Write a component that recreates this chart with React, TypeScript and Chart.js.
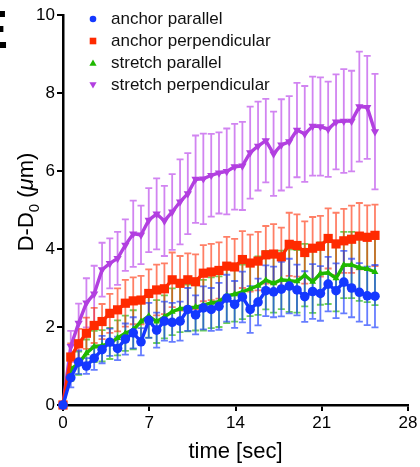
import React, { useEffect, useRef } from "react";
import { Chart, registerables } from "chart.js";

Chart.register(...registerables);

// time points (sec)
const times = [0, 0.63, 1.27, 1.9, 2.53, 3.17, 3.8, 4.43, 5.06, 5.7, 6.33, 6.96, 7.6, 8.23, 8.86, 9.5, 10.13, 10.76, 11.39, 12.03, 12.66, 13.29, 13.93, 14.56, 15.19, 15.83, 16.46, 17.09, 17.72, 18.36, 18.99, 19.62, 20.26, 20.89, 21.52, 22.16, 22.79, 23.42, 24.05, 24.69, 25.32];

const anchorParallel = [0, 0.7, 1.1, 1.0, 1.2, 1.42, 1.61, 1.45, 1.69, 1.85, 1.62, 2.17, 1.92, 2.15, 2.12, 2.15, 2.45, 2.31, 2.49, 2.45, 2.53, 2.74, 2.58, 2.77, 2.45, 2.64, 2.93, 2.9, 2.97, 3.05, 2.95, 2.78, 2.91, 2.86, 3.1, 2.93, 3.15, 3.0, 2.89, 2.8, 2.79];
const anchorParallelErr = [0, 0.25, 0.3, 0.2, 0.3, 0.35, 0.35, 0.3, 0.4, 0.4, 0.35, 0.45, 0.45, 0.5, 0.5, 0.5, 0.55, 0.5, 0.55, 0.55, 0.6, 0.6, 0.6, 0.65, 0.6, 0.6, 0.65, 0.65, 0.7, 0.7, 0.65, 0.65, 0.7, 0.7, 0.7, 0.7, 0.8, 0.75, 0.75, 0.75, 0.8];

const anchorPerp = [0, 1.23, 1.57, 1.84, 2.04, 2.14, 2.35, 2.44, 2.61, 2.67, 2.69, 2.86, 2.95, 2.98, 3.21, 3.12, 3.21, 3.16, 3.38, 3.41, 3.45, 3.56, 3.54, 3.73, 3.64, 3.69, 3.85, 3.87, 3.8, 4.12, 4.09, 3.91, 4.02, 4.07, 4.27, 4.13, 4.21, 4.25, 4.33, 4.3, 4.35];
const anchorPerpErr = [0, 0.35, 0.38, 0.4, 0.45, 0.45, 0.5, 0.55, 0.6, 0.6, 0.62, 0.62, 0.65, 0.65, 0.7, 0.7, 0.68, 0.7, 0.72, 0.72, 0.72, 0.75, 0.72, 0.73, 0.73, 0.75, 0.74, 0.77, 0.75, 0.81, 0.8, 0.8, 0.8, 0.78, 0.77, 0.8, 0.82, 0.86, 0.85, 0.82, 0.79];

const stretchParallel = [0, 0.92, 1.07, 1.33, 1.5, 1.52, 1.58, 1.72, 1.84, 1.93, 2.14, 2.28, 2.14, 2.26, 2.39, 2.47, 2.49, 2.51, 2.56, 2.62, 2.65, 2.8, 2.84, 2.9, 2.98, 3.06, 3.2, 3.12, 3.21, 3.19, 3.17, 3.33, 3.16, 3.37, 3.39, 3.25, 3.59, 3.59, 3.52, 3.49, 3.41];
const stretchParallelErr = [0, 0.3, 0.3, 0.35, 0.4, 0.4, 0.4, 0.45, 0.45, 0.5, 0.5, 0.55, 0.55, 0.55, 0.6, 0.6, 0.6, 0.6, 0.65, 0.65, 0.65, 0.7, 0.7, 0.7, 0.7, 0.75, 0.75, 0.75, 0.75, 0.8, 0.8, 0.8, 0.8, 0.8, 0.8, 0.85, 0.85, 0.85, 0.85, 0.85, 0.85];

const stretchPerp = [0, 1.5, 2.1, 2.62, 2.85, 3.47, 3.63, 3.76, 4.1, 4.39, 4.36, 4.74, 4.9, 4.72, 4.95, 5.21, 5.42, 5.79, 5.8, 5.89, 5.95, 5.99, 6.11, 6.13, 6.47, 6.64, 6.78, 6.44, 6.67, 6.75, 7.05, 6.95, 7.15, 7.14, 7.07, 7.26, 7.28, 7.28, 7.65, 7.63, 7.01];
const stretchPerpErr = [0, 0.4, 0.5, 0.63, 0.72, 0.69, 0.64, 0.68, 0.66, 0.85, 0.75, 0.82, 0.91, 0.9, 0.97, 1.09, 1.04, 1.12, 1.16, 1.06, 1.04, 1.1, 1.1, 1.13, 1.18, 1.14, 1.07, 1.08, 1.17, 1.17, 1.21, 1.23, 1.27, 1.26, 1.22, 1.22, 1.33, 1.29, 1.41, 1.32, 1.48];

const seriesLabels = ["anchor parallel", "anchor perpendicular", "stretch parallel", "stretch perpendicular"];
const xTicks = [0, 7, 14, 21, 28];
const yTicks = [0, 2, 4, 6, 8, 10];
const xTitle = "time [sec]";
const panelLetter = "E";

const FONT = "'Liberation Sans', Arial, Helvetica, sans-serif";

type Series = {
  label: string;
  values: number[];
  errs: number[];
  color: string;
  errColor: string;
  pointStyle: string;
  radius: number;
  rotation: number;
};

const series: Series[] = [
  { label: seriesLabels[0], values: anchorParallel, errs: anchorParallelErr, color: "#1438ff", errColor: "rgba(20,56,255,0.65)", pointStyle: "circle", radius: 4.8, rotation: 0 },
  { label: seriesLabels[1], values: anchorPerp, errs: anchorPerpErr, color: "#ff2a00", errColor: "rgba(255,42,0,0.6)", pointStyle: "rect", radius: 6.5, rotation: 0 },
  { label: seriesLabels[2], values: stretchParallel, errs: stretchParallelErr, color: "#1fb800", errColor: "rgba(31,184,0,0.65)", pointStyle: "triangle", radius: 4, rotation: 0 },
  { label: seriesLabels[3], values: stretchPerp, errs: stretchPerpErr, color: "#b23fe0", errColor: "rgba(190,80,235,0.7)", pointStyle: "triangle", radius: 4.8, rotation: 180 },
];

const errorBarPlugin = {
  id: "errorBars",
  beforeDatasetsDraw(chart: any) {
    const ctx = chart.ctx;
    const xs = chart.scales.x;
    const ys = chart.scales.y;
    ctx.save();
    for (let d = series.length - 1; d >= 0; d--) {
      const s = series[d];
      ctx.strokeStyle = s.errColor;
      ctx.lineWidth = 1.8;
      for (let i = 0; i < times.length; i++) {
        const e = s.errs[i];
        if (!e) continue;
        const x = xs.getPixelForValue(times[i]);
        const yTop = ys.getPixelForValue(s.values[i] + e);
        const yBot = ys.getPixelForValue(s.values[i] - e);
        ctx.beginPath();
        ctx.moveTo(x, yTop);
        ctx.lineTo(x, yBot);
        ctx.moveTo(x - 3.5, yTop);
        ctx.lineTo(x + 3.5, yTop);
        ctx.moveTo(x - 3.5, yBot);
        ctx.lineTo(x + 3.5, yBot);
        ctx.stroke();
      }
    }
    ctx.restore();
  },
};

function drawMarker(ctx: CanvasRenderingContext2D, s: Series, x: number, y: number, size: number) {
  ctx.fillStyle = s.color;
  ctx.beginPath();
  if (s.pointStyle === "circle") {
    ctx.arc(x, y, size * 0.55, 0, Math.PI * 2);
  } else if (s.pointStyle === "rect") {
    ctx.rect(x - size * 0.55, y - size * 0.55, size * 1.1, size * 1.1);
  } else if (s.rotation === 180) {
    ctx.moveTo(x - size * 0.6, y - size * 0.45);
    ctx.lineTo(x + size * 0.6, y - size * 0.45);
    ctx.lineTo(x, y + size * 0.6);
  } else {
    ctx.moveTo(x - size * 0.6, y + size * 0.45);
    ctx.lineTo(x + size * 0.6, y + size * 0.45);
    ctx.lineTo(x, y - size * 0.6);
  }
  ctx.closePath();
  ctx.fill();
}

const decorPlugin = {
  id: "decor",
  afterDraw(chart: any) {
    const ctx: CanvasRenderingContext2D = chart.ctx;
    const area = chart.chartArea;
    ctx.save();
    // legend
    ctx.font = `17px ${FONT}`;
    ctx.textBaseline = "middle";
    ctx.textAlign = "left";
    const rowY = [19, 41, 63, 85];
    series.forEach((s, k) => {
      drawMarker(ctx, s, area.left + 30, rowY[k], 6);
      ctx.fillStyle = "#111";
      ctx.fillText(s.label, area.left + 48, rowY[k]);
    });

    // x title
    ctx.font = `22px ${FONT}`;
    ctx.textAlign = "center";
    ctx.textBaseline = "middle";
    ctx.fillStyle = "#000";
    ctx.fillText(xTitle, (area.left + area.right) / 2, 452);

    // y title: D-D0 (μm) with subscript and italic mu
    ctx.translate(25, 202);
    ctx.rotate(-Math.PI / 2);
    const parts = [
      { t: "D-D", f: `22px ${FONT}`, dy: 0 },
      { t: "0", f: `15px ${FONT}`, dy: 6 },
      { t: " (", f: `22px ${FONT}`, dy: 0 },
      { t: "\u03BC", f: `italic 22px ${FONT}`, dy: 0 },
      { t: "m)", f: `22px ${FONT}`, dy: 0 },
    ];
    let total = 0;
    const widths = parts.map((p) => {
      ctx.font = p.f;
      const w = ctx.measureText(p.t).width;
      total += w;
      return w;
    });
    let cx = -total / 2;
    ctx.textAlign = "left";
    ctx.textBaseline = "alphabetic";
    parts.forEach((p, k) => {
      ctx.font = p.f;
      ctx.fillText(p.t, cx, 8 + p.dy);
      cx += widths[k];
    });
    ctx.restore();

    // panel letter (clipped at left edge)
    ctx.save();
    ctx.font = `bold 53px ${FONT}`;
    ctx.textAlign = "right";
    ctx.textBaseline = "alphabetic";
    ctx.fillStyle = "#000";
    ctx.fillText(panelLetter, 8, 48);
    ctx.restore();
  },
};

export default function App() {
  const canvasRef = useRef<HTMLCanvasElement | null>(null);

  useEffect(() => {
    document.body.style.margin = "0";
    const canvas = canvasRef.current;
    if (!canvas) return;
    Chart.defaults.font.family = FONT;

    const chart = new Chart(canvas, {
      type: "line",
      data: {
        datasets: series.map((s) => ({
          label: s.label,
          data: times.map((t, i) => ({ x: t, y: s.values[i] })),
          borderColor: s.color,
          backgroundColor: s.color,
          borderWidth: 3.4,
          pointStyle: s.pointStyle as any,
          pointRadius: s.radius,
          pointRotation: s.rotation,
          pointBorderWidth: 0,
          pointBackgroundColor: s.color,
          tension: 0,
          clip: false as any,
        })),
      },
      options: {
        animation: false,
        responsive: false,
        maintainAspectRatio: false,
        layout: { padding: { left: 0, top: 15, right: 12, bottom: 0 } },
        plugins: { legend: { display: false }, tooltip: { enabled: false } },
        scales: {
          x: {
            type: "linear",
            min: xTicks[0],
            max: xTicks[xTicks.length - 1],
            afterBuildTicks: (scale: any) => {
              scale.ticks = xTicks.map((v) => ({ value: v }));
            },
            afterFit: (scale: any) => {
              scale.height = 62;
            },
            border: { display: true, color: "#000", width: 2.5 },
            grid: { drawOnChartArea: false, drawTicks: true, tickLength: 6, color: "#000", lineWidth: 2 },
            ticks: { color: "#000", font: { size: 17, family: FONT }, padding: 2, maxRotation: 0 },
          },
          y: {
            type: "linear",
            min: yTicks[0],
            max: yTicks[yTicks.length - 1],
            afterBuildTicks: (scale: any) => {
              scale.ticks = yTicks.map((v) => ({ value: v }));
            },
            afterFit: (scale: any) => {
              scale.width = 63;
            },
            border: { display: true, color: "#000", width: 2.5 },
            grid: { drawOnChartArea: false, drawTicks: true, tickLength: 6, color: "#000", lineWidth: 2 },
            ticks: { color: "#000", font: { size: 17, family: FONT }, padding: 2 },
          },
        },
      },
      plugins: [errorBarPlugin, decorPlugin],
    } as any);

    return () => chart.destroy();
  }, []);

  return (
    <div style={{ width: 420, height: 467, position: "relative", background: "#fff" }}>
      <canvas ref={canvasRef} width={420} height={467} style={{ display: "block", width: 420, height: 467 }} />
    </div>
  );
}
